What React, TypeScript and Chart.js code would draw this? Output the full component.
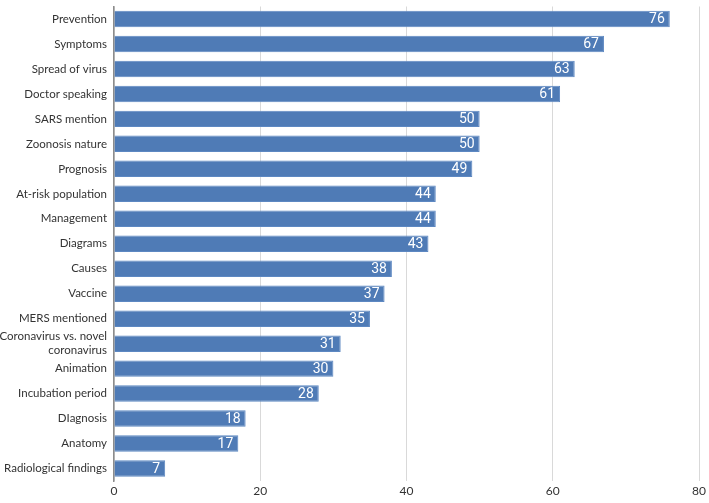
import React, { useEffect, useRef } from "react";
import { Chart, registerables } from "chart.js";

Chart.register(...registerables);

const categories: (string | string[])[] = [
  "Prevention",
  "Symptoms",
  "Spread of virus",
  "Doctor speaking",
  "SARS mention",
  "Zoonosis nature",
  "Prognosis",
  "At-risk population",
  "Management",
  "Diagrams",
  "Causes",
  "Vaccine",
  "MERS mentioned",
  ["Coronavirus vs. novel", "coronavirus"],
  "Animation",
  "Incubation period",
  "DIagnosis",
  "Anatomy",
  "Radiological findings",
];

const values = [76, 67, 63, 61, 50, 50, 49, 44, 44, 43, 38, 37, 35, 31, 30, 28, 18, 17, 7];

const xTicks = [0, 20, 40, 60, 80];

const barLabels = {
  id: "barLabels",
  afterDatasetsDraw(chart: any) {
    const ctx = chart.ctx;
    const meta = chart.getDatasetMeta(0);
    ctx.save();
    ctx.fillStyle = "#ffffff";
    ctx.font = "14px Roboto, 'Noto Sans', sans-serif";
    ctx.textAlign = "right";
    ctx.textBaseline = "middle";
    meta.data.forEach((bar: any, i: number) => {
      ctx.fillText(String(values[i]), bar.x - 5, bar.y + 0.5);
    });
    ctx.restore();
  },
};

export default function App() {
  const ref = useRef<HTMLCanvasElement>(null);
  useEffect(() => {
    document.body.style.margin = "0";
    const chart = new Chart(ref.current!, {
      type: "bar",
      data: {
        labels: categories,
        datasets: [
          {
            data: values,
            backgroundColor: "#4f7bb6",
            borderColor: "#5d88c2",
            borderWidth: 1,
            categoryPercentage: 1,
            barPercentage: 0.66,
          },
        ],
      },
      options: {
        indexAxis: "y",
        responsive: false,
        animation: false,
        layout: { padding: { top: 6.5, right: 9, left: 0, bottom: 0 } },
        plugins: { legend: { display: false }, tooltip: { enabled: false } },
        scales: {
          x: {
            min: 0,
            max: 80,
            afterBuildTicks: (axis: any) => {
              axis.ticks = xTicks.map((v) => ({ value: v }));
            },
            grid: { color: "#d9d9d9", lineWidth: 1, drawTicks: false },
            border: { display: false },
            ticks: {
              color: "#333333",
              font: { family: "Lato, sans-serif", size: 12 },
              padding: 3,
            },
            afterFit: (axis: any) => {
              axis.height = 22;
            },
          },
          y: {
            grid: { display: false, drawTicks: false },
            border: { display: true, color: "#8c8c8c", width: 1.5 },
            ticks: {
              color: "#333333",
              font: { family: "Lato, sans-serif", size: 11.5, lineHeight: 1.2 },
              padding: 7,
              autoSkip: false,
            },
            afterFit: (axis: any) => {
              axis.width = 114;
              axis.paddingTop = 0;
              axis.paddingBottom = 0;
            },
          },
        },
      },
      plugins: [barLabels],
    });
    return () => chart.destroy();
  }, []);
  return <canvas ref={ref} width={709} height={503} style={{ display: "block" }} />;
}
